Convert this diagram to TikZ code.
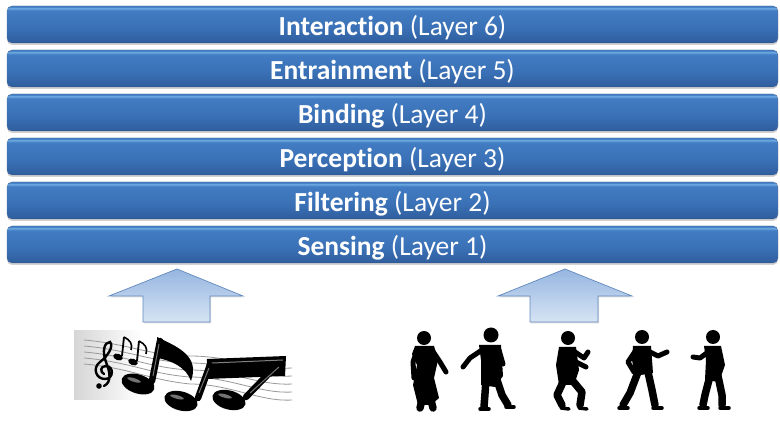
\documentclass[tikz,border=0pt]{standalone}
\usepackage{fontspec}
\setmainfont{Carlito}[Ligatures=NoCommon]
\usetikzlibrary{shadows,fadings}
\definecolor{bardark}{RGB}{38,76,134}
\definecolor{barmid}{RGB}{58,112,182}
\definecolor{barlow}{RGB}{48,96,160}
\definecolor{barhigh}{RGB}{112,172,228}
\definecolor{barup}{RGB}{66,124,194}
\definecolor{arrowtop}{RGB}{150,182,224}
\definecolor{arrowbot}{RGB}{214,228,244}
\definecolor{arrowedge}{RGB}{98,136,190}
\pgfdeclareverticalshading{barshade}{100bp}{%
  color(0bp)=(bardark); color(25bp)=(bardark); color(27.5bp)=(barlow);
  color(45bp)=(barmid); color(69bp)=(barup); color(72bp)=(barhigh);
  color(74bp)=(barup); color(75bp)=(barup); color(100bp)=(barup)}
% layer caption: bold name followed by the layer number
\newcommand{\layercaption}[2]{\textbf{#1} (Layer #2)}
\tikzset{
  layerbar/.style={rounded corners=5pt, shading=barshade, draw=bardark!80, line width=0.4pt,
    minimum width=771pt, minimum height=37pt, inner sep=0pt, text=white,
    text height=23pt, text depth=1pt,
    font=\fontsize{27.5}{32}\selectfont,
    drop shadow={opacity=0.35, shadow xshift=0pt, shadow yshift=-2pt}},
  blockarrow/.style={top color=arrowtop, bottom color=arrowbot, draw=arrowedge, line width=0.7pt,
    drop shadow={opacity=0.25, shadow xshift=1pt, shadow yshift=-1.5pt}},
  limb/.style={line width=7.5pt, line cap=round, line join=round},
  thinlimb/.style={line width=5pt, line cap=round, line join=round},
  foot/.style={line width=3.5pt, line cap=round},
  staff/.style={draw=black!40, line width=0.8pt},
  stem/.style={line width=6.5pt, line cap=round},
  gloss/.style={fill=white, opacity=0.45}
}
\begin{document}
\begin{tikzpicture}[x=1pt,y=-1pt]
\useasboundingbox (0,0) rectangle (780,427);
\fill[white] (0,0) rectangle (780,427);

% protocol layers
\node[layerbar] (l6) at (392.5,24.5) {\layercaption{Interaction}{6}};
\node[layerbar] (l5) at (392.5,68.5) {\layercaption{Entrainment}{5}};
\node[layerbar] (l4) at (392.5,112.5) {\layercaption{Binding}{4}};
\node[layerbar] (l3) at (392.5,156.5) {\layercaption{Perception}{3}};
\node[layerbar] (l2) at (392.5,200.5) {\layercaption{Filtering}{2}};
\node[layerbar] (l1) at (392.5,244.5) {\layercaption{Sensing}{1}};

% upward block arrows
\path[blockarrow] (177,269) -- (243,296) -- (210,296) -- (210,322) -- (143,322) -- (143,296) -- (109,296) -- cycle;
\path[blockarrow] (565,269) -- (632,296) -- (598,296) -- (598,322) -- (530,322) -- (530,296) -- (498,296) -- cycle;

% music clip art: faded backdrop and curved staff
\fill[black!16, path fading=east] (74,330) rectangle (140,400);
\foreach \k in {0,...,4}{
  \draw[staff] (84,{340+6*\k}) .. controls (130,{344+6*\k}) and (150,{356+6*\k}) .. (190,{356+7*\k})
    .. controls (230,{356+7*\k}) and (260,{370+8*\k}) .. (292,{368+8*\k});
}
% treble clef
\draw[line width=2.4pt, line cap=round] (104,386) .. controls (112,382) and (110,372) .. (106,362)
  .. controls (102,352) and (104,342) .. (110,342) .. controls (114,346) and (108,356) .. (100,362)
  .. controls (92,368) and (96,379) .. (105,379) .. controls (114,379) and (114,366) .. (106,366)
  .. controls (100,366) and (100,372) .. (104,374);
\fill (99,386) circle (2.8pt);
% small eighth notes
\draw[line width=1.8pt] (124,337) -- (122,356);
\draw[line width=1.8pt] (139,341) -- (137,361);
\draw[line width=1.6pt] (124,337) .. controls (130,340) and (133,344) .. (131,350);
\draw[line width=1.6pt] (139,341) .. controls (145,344) and (148,348) .. (146,354);
\fill[rotate around={-20:(118,357)}] (118,357) ellipse (5pt and 3.2pt);
\fill[rotate around={-20:(133,362)}] (133,362) ellipse (5pt and 3.2pt);
% large eighth note
\draw[stem] (160,341) -- (152,381);
\fill (157,337) .. controls (178,347) and (200,356) .. (191,381)
  .. controls (186,367) and (172,361) .. (158,358) -- cycle;
\fill[rotate around={-18:(138,384)}] (138,384) ellipse (17pt and 9.5pt);
\fill[gloss, rotate around={-18:(134,380)}] (134,380) ellipse (7pt and 1.8pt);
\draw[white, opacity=0.45, line width=1pt] (159,344) -- (153,376);
% beamed pair
\fill (207,359) -- (286,356) -- (285,376) -- (206,379) -- cycle;
\draw[stem] (211,362) -- (198,398);
\draw[stem] (281,361) -- (246,397);
\fill[rotate around={-15:(181,401)}] (181,401) ellipse (17pt and 9.5pt);
\fill[rotate around={-15:(229,400)}] (229,400) ellipse (17pt and 9.5pt);
\fill[gloss, rotate around={-15:(177,397)}] (177,397) ellipse (7pt and 1.8pt);
\fill[gloss, rotate around={-15:(225,396)}] (225,396) ellipse (7pt and 1.8pt);
\draw[white, opacity=0.5, line width=1pt] (212,363) -- (283,360);
\draw[white, opacity=0.45, line width=1pt] (209,368) -- (199,393);
\draw[white, opacity=0.45, line width=1pt] (279,367) -- (250,393);

% dancer silhouettes
% first dancer
\fill (424,338) circle (7pt);
\fill (415,346) -- (434,346) -- (438,360) -- (434,378) -- (439,398) -- (431,405) -- (418,405) -- (413,385) -- (417,365) -- (412,354) -- cycle;
\draw[thinlimb] (417,350) -- (413,362) -- (414,378);
\draw[thinlimb] (432,350) -- (440,362) -- (446,372);
\draw[limb] (422,400) -- (420,408);
\draw[limb] (431,400) -- (433,408);
% second dancer
\fill (491,335) circle (7.5pt);
\fill (479,345) -- (501,345) -- (503,376) -- (495,387) -- (481,385) -- (481,360) -- cycle;
\draw[thinlimb] (482,350) -- (470,358) -- (463,367);
\draw[thinlimb] (499,350) -- (503,364);
\draw[limb] (486,380) -- (484,407);
\draw[limb] (497,380) -- (502,395) -- (508,405);
\draw[foot] (480,409) -- (489,409);
\draw[foot] (506,407) -- (514,407);
% third dancer
\fill (568,338) circle (7pt);
\fill (559,347) -- (576,347) -- (579,370) -- (574,385) -- (559,385) -- (556,365) -- cycle;
\draw[thinlimb] (575,352) -- (584,358) -- (588,352);
\draw[thinlimb] (574,361) -- (586,367);
\draw[limb] (564,380) -- (557,395) -- (562,405);
\draw[limb] (572,380) -- (582,392) -- (580,405);
\draw[foot] (561,408) -- (569,409);
\draw[foot] (579,408) -- (587,409);
% fourth dancer
\fill (642,337) circle (7pt);
\fill (633,346) -- (651,346) -- (653,373) -- (635,376) -- (632,360) -- cycle;
\draw[thinlimb] (648,351) -- (658,356) -- (667,352);
\draw[thinlimb] (636,350) -- (628,362) -- (634,372);
\draw[limb] (638,372) -- (630,393) -- (623,405);
\draw[limb] (648,372) -- (652,390) -- (655,405);
\draw[foot] (619,408) -- (628,408);
\draw[foot] (653,408) -- (662,408);
% fifth dancer
\fill (713,337) circle (7pt);
\fill (704,346) -- (721,346) -- (725,365) -- (719,382) -- (705,380) -- (706,360) -- cycle;
\draw[thinlimb] (708,352) -- (700,358) -- (693,357);
\draw[limb] (710,376) -- (705,395) -- (703,405);
\draw[limb] (718,376) -- (722,395) -- (722,405);
\draw[foot] (699,408) -- (708,408);
\draw[foot] (720,408) -- (729,408);
\end{tikzpicture}
\end{document}
